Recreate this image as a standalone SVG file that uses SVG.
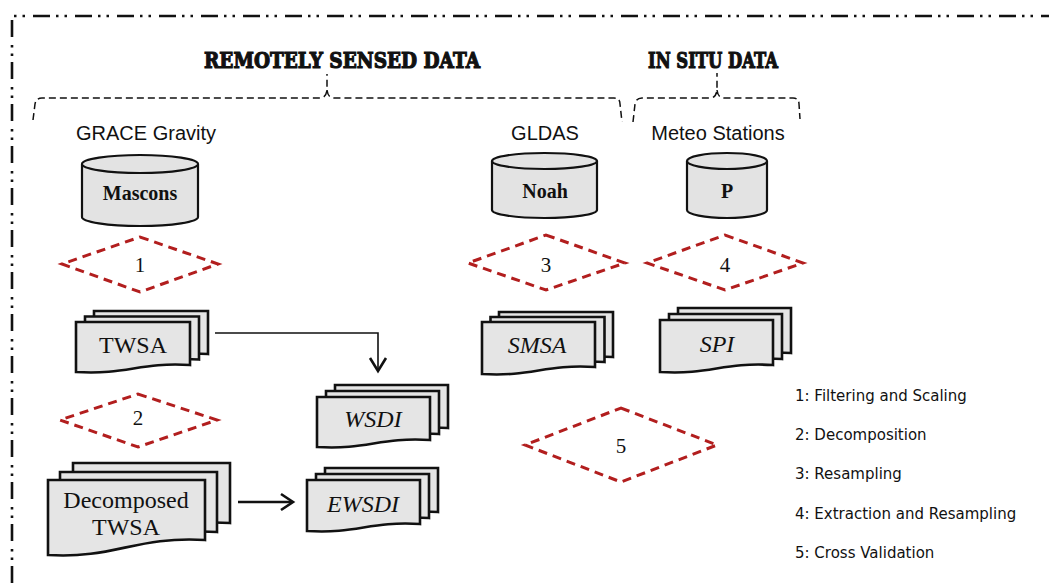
<svg xmlns="http://www.w3.org/2000/svg" width="1049" height="583" viewBox="0 0 1049 583">
  <style>
    .frame { fill: none; stroke: #111; stroke-width: 2.6; stroke-dasharray: 17 6 2.5 6 2.5 8; }
    .brace { fill: none; stroke: #111; stroke-width: 1.5; stroke-dasharray: 7 4; }
    .title { font-family: "DejaVu Serif", "Liberation Serif", serif; font-weight: 900; font-size: 22px; fill: #111; stroke: #111; stroke-width: 1.2; text-anchor: middle; }
    .src { font-family: "Liberation Sans", Arial, sans-serif; font-size: 20px; fill: #111; text-anchor: middle; }
    .cyl { fill: #e3e3e3; stroke: #111; stroke-width: 2.2; }
    .cyltxt { font-family: "Liberation Serif", serif; font-weight: bold; font-size: 20px; fill: #111; text-anchor: middle; }
    .proc { fill: none; stroke: #b21e1e; stroke-width: 3; stroke-dasharray: 9 6; }
    .proctxt { font-family: "Liberation Serif", serif; font-size: 21px; fill: #111; text-anchor: middle; }
    .doc { fill: #e5e5e5; stroke: #111; stroke-width: 2.6; stroke-linejoin: miter; }
    .doctxt { font-family: "Liberation Serif", serif; font-size: 24px; fill: #111; text-anchor: middle; }
    .it { font-style: italic; }
    .link { fill: none; stroke: #111; stroke-width: 1.6; }
    .link-thick { fill: none; stroke: #111; stroke-width: 2.6; }
    .head { fill: none; stroke: #111; stroke-width: 2.6; stroke-linejoin: miter; }
    .legend { font-family: "DejaVu Sans", Verdana, sans-serif; font-size: 15px; fill: #111; }
  </style>

  <!-- outer dash-dot-dot frame (top and left sides) -->
  <polyline class="frame" points="12,583 12,16 1049,16"/>

  <!-- section titles and braces -->
  <g id="remote-title">
    <text class="title" x="342" y="68" textLength="276" lengthAdjust="spacingAndGlyphs">REMOTELY SENSED DATA</text>
    <path class="brace" d="M33,120 L35,104 Q36,98 42,98 L320,98 Q326,98 327,90 L327,74 M327,90 Q328,98 334,98 L614,98 Q620,98 620,104 L622,122"/>
  </g>
  <g id="insitu-title">
    <text class="title" x="713" y="68" textLength="130" lengthAdjust="spacingAndGlyphs">IN SITU DATA</text>
    <path class="brace" d="M633,122 L635,104 Q636,98 642,98 L710,98 Q716,98 717,90 L717,73 M717,90 Q718,98 724,98 L793,98 Q799,98 799,104 L800,119"/>
  </g>

  <!-- source labels -->
  <text class="src" x="146" y="140">GRACE Gravity</text>
  <text class="src" x="545" y="140">GLDAS</text>
  <text class="src" x="718" y="140">Meteo Stations</text>

  <!-- data stores -->
  <g id="mascons">
    <path class="cyl" d="M82,164 V217 A58,9 0 0 0 198,217 V164"/>
    <ellipse class="cyl" cx="140" cy="164" rx="58" ry="9"/>
    <text class="cyltxt" x="140" y="200">Mascons</text>
  </g>
  <g id="noah">
    <path class="cyl" d="M492,161 V210 A52.5,8 0 0 0 597,210 V161"/>
    <ellipse class="cyl" cx="544.5" cy="161" rx="52.5" ry="8"/>
    <text class="cyltxt" x="545" y="198">Noah</text>
  </g>
  <g id="precip">
    <path class="cyl" d="M687,161 V210 A40,8 0 0 0 767,210 V161"/>
    <ellipse class="cyl" cx="727" cy="161" rx="40" ry="8"/>
    <text class="cyltxt" x="727" y="198">P</text>
  </g>

  <!-- processing steps -->
  <g id="step1">
    <polygon class="proc" points="140,237 218,264 140,292 62,264"/>
    <text class="proctxt" x="140" y="272">1</text>
  </g>
  <g id="step2">
    <polygon class="proc" points="138,394 217,420 138,447 60,420"/>
    <text class="proctxt" x="138" y="425">2</text>
  </g>
  <g id="step3">
    <polygon class="proc" points="546,235 625,263 546,290 468,263"/>
    <text class="proctxt" x="546" y="272">3</text>
  </g>
  <g id="step4">
    <polygon class="proc" points="725,235 803,263 725,290 647,263"/>
    <text class="proctxt" x="725" y="272">4</text>
  </g>
  <g id="step5">
    <polygon class="proc" points="621,408 717,445 621,482 525,445"/>
    <text class="proctxt" x="621" y="453">5</text>
  </g>

  <!-- document stacks (back, middle, front) -->
  <g id="twsa">
    <path class="doc" d="M94,311 H208 V354 C157,351 146,364 94,361 Z"/>
    <path class="doc" d="M85,316.5 H199 V359.5 C148,356.5 137,369.5 85,366.5 Z"/>
    <path class="doc" d="M76,322 H190 V365 C139,362 128,375 76,372 Z"/>
    <text class="doctxt" x="133" y="353">TWSA</text>
  </g>
  <g id="wsdi">
    <path class="doc" d="M335,385 H448 V428 C397,425 386,438 335,435 Z"/>
    <path class="doc" d="M326,391 H439 V434 C388,431 377,444 326,441 Z"/>
    <path class="doc" d="M317,397 H430 V440 C379,437 368,450 317,447 Z"/>
    <text class="doctxt it" x="373" y="427">WSDI</text>
  </g>
  <g id="decomposed-twsa">
    <path class="doc" d="M73,463 H230 V523 C160,519 140,542 73,538 Z"/>
    <path class="doc" d="M60,472 H217 V532 C147,528 127,551 60,547 Z"/>
    <path class="doc" d="M48,480 H205 V540 C135,536 115,559 48,555 Z"/>
    <text class="doctxt" x="126" y="508">Decomposed</text>
    <text class="doctxt" x="126" y="535">TWSA</text>
  </g>
  <g id="ewsdi">
    <path class="doc" d="M325,468 H438 V512 C387,509 376,522 325,519 Z"/>
    <path class="doc" d="M316,474 H429 V518 C378,515 367,528 316,525 Z"/>
    <path class="doc" d="M307,480 H420 V524 C369,521 358,534 307,531 Z"/>
    <text class="doctxt it" x="363" y="512">EWSDI</text>
  </g>
  <g id="smsa">
    <path class="doc" d="M499,312 H613 V357 C562,354 551,367 499,364 Z"/>
    <path class="doc" d="M490.5,317 H604.5 V362 C553.5,359 542.5,372 490.5,369 Z"/>
    <path class="doc" d="M482,322 H595 V367 C544,364 533,377 482,374 Z"/>
    <text class="doctxt it" x="537" y="353">SMSA</text>
  </g>
  <g id="spi">
    <path class="doc" d="M678,308 H791 V353 C740,350 729,363 678,360 Z"/>
    <path class="doc" d="M669,314 H782 V359 C731,356 720,369 669,366 Z"/>
    <path class="doc" d="M660,320 H773 V365 C722,362 711,375 660,372 Z"/>
    <text class="doctxt it" x="717" y="352">SPI</text>
  </g>

  <!-- connectors -->
  <g id="connectors">
    <polyline class="link" points="215,333 378,333 378,370"/>
    <polyline class="head" points="370,358 378,371 386,358"/>
    <line class="link-thick" x1="238" y1="502" x2="292" y2="502"/>
    <polyline class="head" points="281,494 293,502 281,510"/>
  </g>

  <!-- legend -->
  <g id="legend">
    <text class="legend" x="795" y="401">1: Filtering and Scaling</text>
    <text class="legend" x="795" y="440">2: Decomposition</text>
    <text class="legend" x="795" y="479">3: Resampling</text>
    <text class="legend" x="795" y="519">4: Extraction and Resampling</text>
    <text class="legend" x="795" y="558">5: Cross Validation</text>
  </g>
</svg>
